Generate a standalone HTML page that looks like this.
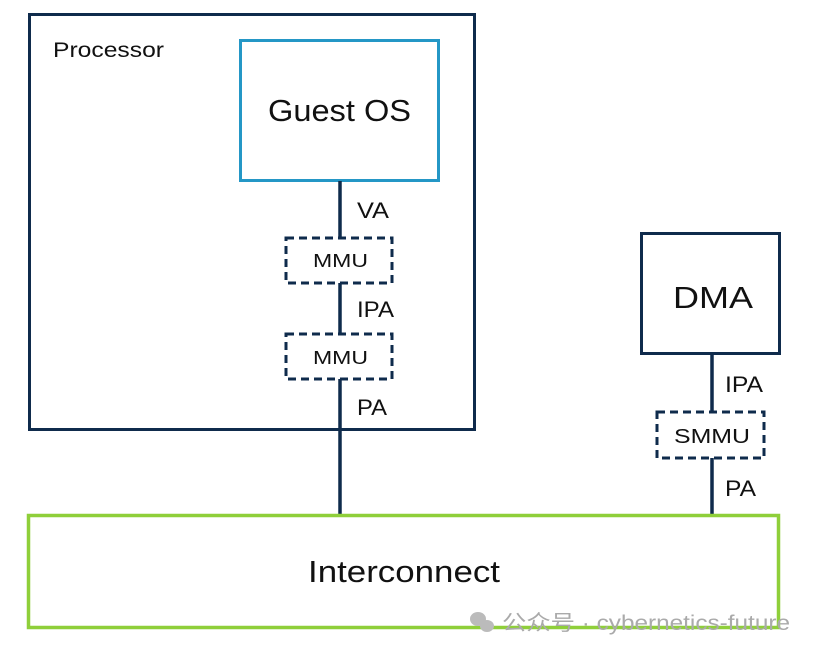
<!DOCTYPE html>
<html><head><meta charset="utf-8"><style>
html,body{margin:0;padding:0;background:#fff;}
svg{display:block;}
text{font-family:"Liberation Sans","Noto Sans CJK SC",sans-serif;}
</style></head><body>
<svg width="815" height="655" viewBox="0 0 815 655" xmlns="http://www.w3.org/2000/svg">
<rect x="0" y="0" width="815" height="655" fill="#fff"/>
<rect x="29.5" y="14.5" width="445" height="415" fill="none" stroke="#0f2b4c" stroke-width="3"/>
<text x="53" y="57" font-size="21" fill="#111" textLength="111" lengthAdjust="spacingAndGlyphs">Processor</text>
<rect x="240.5" y="40.5" width="198" height="140" fill="none" stroke="#2497c6" stroke-width="3"/>
<text x="268" y="121" font-size="31" fill="#111" textLength="143" lengthAdjust="spacingAndGlyphs">Guest OS</text>
<line x1="340" y1="181" x2="340" y2="514" stroke="#0f2b4c" stroke-width="3.5"/>
<rect x="286" y="238" width="106" height="45" fill="#fff" stroke="#0f2b4c" stroke-width="3" stroke-dasharray="8,5"/>
<text x="313" y="267" font-size="18" fill="#111" textLength="55" lengthAdjust="spacingAndGlyphs">MMU</text>
<rect x="286" y="334" width="106" height="45" fill="#fff" stroke="#0f2b4c" stroke-width="3" stroke-dasharray="8,5"/>
<text x="313" y="364" font-size="18" fill="#111" textLength="55" lengthAdjust="spacingAndGlyphs">MMU</text>
<text x="357" y="218" font-size="22" fill="#111" textLength="32" lengthAdjust="spacingAndGlyphs">VA</text>
<text x="357" y="317" font-size="22" fill="#111" textLength="37" lengthAdjust="spacingAndGlyphs">IPA</text>
<text x="357" y="415" font-size="22" fill="#111" textLength="30" lengthAdjust="spacingAndGlyphs">PA</text>
<rect x="641.5" y="233.5" width="138" height="120" fill="none" stroke="#0f2b4c" stroke-width="3"/>
<text x="673" y="308" font-size="31" fill="#111" textLength="80" lengthAdjust="spacingAndGlyphs">DMA</text>
<line x1="712" y1="354" x2="712" y2="514" stroke="#0f2b4c" stroke-width="3.5"/>
<rect x="657" y="412" width="107" height="46" fill="#fff" stroke="#0f2b4c" stroke-width="3" stroke-dasharray="8,5"/>
<text x="674" y="443" font-size="20" fill="#111" textLength="76" lengthAdjust="spacingAndGlyphs">SMMU</text>
<text x="725" y="392" font-size="22" fill="#111" textLength="38" lengthAdjust="spacingAndGlyphs">IPA</text>
<text x="725" y="496" font-size="22" fill="#111" textLength="31" lengthAdjust="spacingAndGlyphs">PA</text>
<rect x="28.5" y="515.5" width="750" height="112" fill="none" stroke="#8fcf3a" stroke-width="3.5"/>
<text x="308" y="582" font-size="31" fill="#111" textLength="192" lengthAdjust="spacingAndGlyphs">Interconnect</text>
<g fill="#bbb">
<ellipse cx="478" cy="619" rx="8" ry="7"/>
<ellipse cx="487" cy="626" rx="7" ry="6"/>
</g>
<text x="502" y="630" font-size="21" fill="#aaa" textLength="288" lengthAdjust="spacingAndGlyphs">公众号 · cybernetics-future</text>
</svg>
</body></html>
